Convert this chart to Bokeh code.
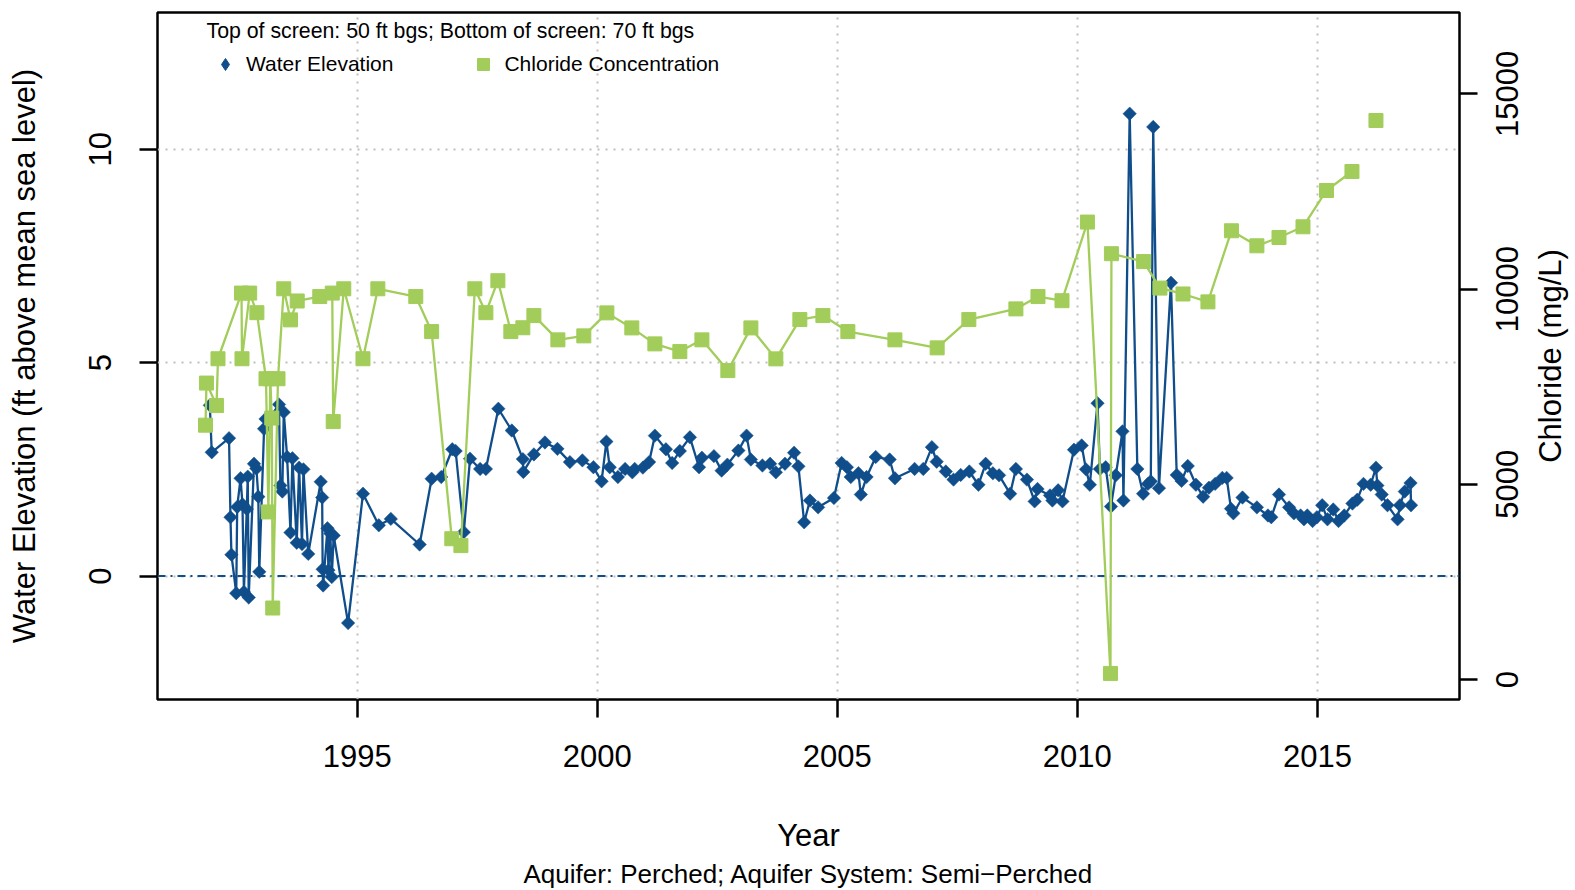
import math
from bokeh.plotting import figure
from bokeh.models import (Range1d, LinearAxis, FixedTicker, Span, Legend,
                          LegendItem, Label, Title, CustomJSTickFormatter)
from bokeh.embed import file_html
from bokeh.resources import INLINE

# ---------------- data ----------------
wl_year = [1991.93, 1991.97, 1992.33, 1992.36, 1992.38, 1992.48, 1992.50, 1992.57,
           1992.61, 1992.64, 1992.70, 1992.72, 1992.74, 1992.85, 1992.90, 1992.94,
           1992.96, 1993.06, 1993.09, 1993.20, 1993.37, 1993.40, 1993.44, 1993.47,
           1993.54, 1993.61, 1993.65, 1993.74, 1993.79, 1993.85, 1993.88, 1993.98,
           1994.24, 1994.27, 1994.28, 1994.29, 1994.38, 1994.40, 1994.44, 1994.47,
           1994.51, 1994.81, 1995.12, 1995.45, 1995.70, 1996.30, 1996.55, 1996.75,
           1996.98, 1997.05, 1997.22, 1997.35, 1997.56, 1997.68, 1997.94, 1998.22,
           1998.45, 1998.46, 1998.68, 1998.91, 1999.17, 1999.43, 1999.69, 1999.92,
           2000.09, 2000.19, 2000.26, 2000.43, 2000.58, 2000.73, 2000.78, 2000.95,
           2001.08, 2001.20, 2001.43, 2001.56, 2001.72, 2001.93, 2002.12, 2002.18,
           2002.43, 2002.59, 2002.71, 2002.94, 2003.11, 2003.20, 2003.44, 2003.60,
           2003.72, 2003.91, 2004.10, 2004.19, 2004.31, 2004.43, 2004.60, 2004.93,
           2005.09, 2005.20, 2005.28, 2005.44, 2005.49, 2005.61, 2005.80, 2006.09,
           2006.20, 2006.61, 2006.79, 2006.97, 2007.07, 2007.26, 2007.42, 2007.57,
           2007.75, 2007.94, 2008.09, 2008.24, 2008.37, 2008.60, 2008.72, 2008.95,
           2009.11, 2009.17, 2009.43, 2009.48, 2009.60, 2009.69, 2009.93, 2010.09,
           2010.18, 2010.26, 2010.42, 2010.47, 2010.59, 2010.70, 2010.80, 2010.94,
           2010.96, 2011.09, 2011.25, 2011.37, 2011.47, 2011.53, 2011.58, 2011.70,
           2011.95, 2012.07, 2012.17, 2012.30, 2012.47, 2012.62, 2012.74, 2012.87,
           2013.02, 2013.11, 2013.20, 2013.25, 2013.44, 2013.74, 2013.97, 2014.04,
           2014.20, 2014.41, 2014.51, 2014.65, 2014.72, 2014.79, 2014.90, 2014.99,
           2015.10, 2015.21, 2015.33, 2015.44, 2015.56, 2015.73, 2015.83, 2015.96,
           2016.11, 2016.22, 2016.25, 2016.34, 2016.46, 2016.67, 2016.72, 2016.82,
           2016.94, 2016.95]
wl_elev = [4.00, 2.90, 3.23, 1.38, 0.50, -0.40, 1.62, 2.29,
           1.68, -0.37, 1.57, 2.33, -0.50, 2.63, 2.52, 1.86,
           0.10, 3.45, 3.68, 3.74, 4.02, 2.12, 1.98, 3.84,
           2.79, 1.02, 2.76, 0.78, 2.54, 0.75, 2.50, 0.52,
           2.21, 1.84, 0.16, -0.22, 1.12, 0.14, 1.00, -0.02,
           0.95, -1.10, 1.93, 1.19, 1.34, 0.74, 2.28, 2.32,
           2.97, 2.93, 1.03, 2.75, 2.51, 2.51, 3.92, 3.41,
           2.74, 2.44, 2.85, 3.13, 2.98, 2.67, 2.71, 2.55,
           2.22, 3.15, 2.55, 2.32, 2.51, 2.43, 2.51, 2.54,
           2.67, 3.29, 2.97, 2.65, 2.93, 3.25, 2.55, 2.77,
           2.81, 2.47, 2.61, 2.94, 3.29, 2.73, 2.59, 2.63,
           2.43, 2.63, 2.89, 2.57, 1.26, 1.77, 1.61, 1.83,
           2.65, 2.55, 2.32, 2.41, 1.91, 2.32, 2.79, 2.73,
           2.29, 2.51, 2.51, 3.02, 2.68, 2.45, 2.26, 2.37,
           2.45, 2.14, 2.63, 2.41, 2.36, 1.93, 2.51, 2.26,
           1.75, 2.04, 1.89, 1.77, 2.01, 1.75, 2.96, 3.06,
           2.50, 2.14, 4.05, 2.51, 2.55, 1.63, 2.36, 3.39,
           1.77, 10.83, 2.51, 1.93, 2.16, 2.22, 10.52, 2.06,
           6.87, 2.37, 2.23, 2.58, 2.14, 1.86, 2.07, 2.16,
           2.30, 2.30, 1.58, 1.47, 1.84, 1.61, 1.42, 1.38,
           1.91, 1.61, 1.47, 1.42, 1.33, 1.42, 1.29, 1.38,
           1.66, 1.33, 1.56, 1.29, 1.42, 1.70, 1.79, 2.16,
           2.14, 2.54, 2.12, 1.91, 1.66, 1.33, 1.66, 1.98,
           2.18, 1.66]

cl_year = [1991.84, 1991.86, 1992.07, 1992.10, 1992.59, 1992.60, 1992.76, 1992.91,
           1993.10, 1993.15, 1993.19, 1993.22, 1993.24, 1993.35, 1993.47, 1993.61,
           1993.75, 1994.22, 1994.48, 1994.50, 1994.72, 1995.12, 1995.43, 1996.22,
           1996.55, 1996.97, 1997.16, 1997.45, 1997.68, 1997.93, 1998.20, 1998.45,
           1998.68, 1999.18, 1999.72, 2000.20, 2000.72, 2001.20, 2001.72, 2002.18,
           2002.72, 2003.20, 2003.72, 2004.22, 2004.70, 2005.22, 2006.20, 2007.08,
           2007.74, 2008.72, 2009.18, 2009.68, 2010.21, 2010.69, 2010.71, 2011.38,
           2011.72, 2012.20, 2012.72, 2013.21, 2013.74, 2014.20, 2014.70, 2015.19,
           2015.72, 2016.22]
cl_conc = [6515, 7593, 7017, 8216, 9898, 8216, 9898, 9396,
           7704, 4292, 7704, 6697, 1831, 7704, 10008, 9212,
           9696, 9809, 9898, 6607, 10008, 8216, 10008, 9809,
           8912, 3606, 3430, 10008, 9396, 10215, 8912, 9010,
           9322, 8700, 8802, 9391, 9006, 8597, 8400, 8700,
           7913, 9006, 8213, 9220, 9322, 8912, 8700, 8495,
           9220, 9493, 9809, 9703, 11717, 156, 10907, 10705,
           10026, 9875, 9673, 11494, 11109, 11322, 11596, 12526,
           13012, 14319]

x_ticks = [1995, 2000, 2005, 2010, 2015]
elev_ticks = [0, 5, 10]
cl_ticks = [0, 5000, 10000, 15000]
cl_labels = ["0", "5000", "10000", "15000"]
cl_title = "Chloride (mg/L)"

header_text = "Top of screen: 50 ft bgs; Bottom of screen: 70 ft bgs"
subtitle_text = "Aquifer: Perched; Aquifer System: Semi\u2212Perched"

# ---------------- style ----------------
BLUE = "#104E8B"
GREEN = "#A2CD5A"
GRID = "#BEBEBE"
FONT = "Liberation Sans"
FSN = 31
FS = f"{FSN}px"

FRAME_W, FRAME_H = 1302, 687
X0, X1 = 1990.84, 2017.96
Y0, Y1 = -2.89, 13.20
C0, C1 = -512.0, 17085.0

p = figure(frame_width=FRAME_W, frame_height=FRAME_H,
           x_range=Range1d(X0, X1), y_range=Range1d(Y0, Y1),
           output_backend="svg", toolbar_location=None,
           min_border_left=157, min_border_right=116,
           min_border_top=12, min_border_bottom=191)
p.extra_y_ranges = {"cl": Range1d(C0, C1)}

p.outline_line_color = "black"
p.outline_line_width = 2.5
p.background_fill_color = "white"
p.border_fill_color = "white"

# grids
p.xgrid.ticker = FixedTicker(ticks=x_ticks)
p.ygrid.ticker = FixedTicker(ticks=elev_ticks)
for g in (p.xgrid[0], p.ygrid[0]):
    g.grid_line_color = GRID
    g.grid_line_dash = "2 6"
    g.grid_line_width = 2

def style_axis(ax):
    ax.axis_line_color = None
    ax.major_tick_out = 18
    ax.major_tick_in = 0
    ax.major_tick_line_width = 2.5
    ax.major_tick_line_color = "black"
    ax.minor_tick_line_color = None
    ax.major_label_text_font = FONT
    ax.major_label_text_font_size = FS
    ax.major_label_text_color = "black"
    ax.axis_label_text_font = FONT
    ax.axis_label_text_font_size = FS
    ax.axis_label_text_font_style = "normal"
    ax.axis_label_text_color = "black"

xa = p.xaxis[0]
style_axis(xa)
xa.ticker = FixedTicker(ticks=x_ticks)
xa.axis_label = "Year"
xa.major_label_standoff = 27
xa.axis_label_standoff = 48

ya = p.yaxis[0]
style_axis(ya)
ya.ticker = FixedTicker(ticks=elev_ticks)
ya.axis_label = "Water Elevation (ft above mean sea level)"
ya.major_label_orientation = "vertical"
ya.major_label_standoff = 28
ya.axis_label_standoff = 45

# right side: tick marks, labels (reading upwards, centred on ticks) and title
px_per_cl = FRAME_H / (C1 - C0)
ra_ticks = LinearAxis(y_range_name="cl", ticker=FixedTicker(ticks=cl_ticks),
                      formatter=CustomJSTickFormatter(code="return '';"))
style_axis(ra_ticks)
ra_ticks.major_label_standoff = 0
p.add_layout(ra_ticks, "right")

half_w = [len(s) * 0.556 * FSN / 2 / px_per_cl for s in cl_labels]
ra_lab = LinearAxis(y_range_name="cl",
                    ticker=FixedTicker(ticks=[t - h for t, h in zip(cl_ticks, half_w)]),
                    formatter=CustomJSTickFormatter(args=dict(labels=cl_labels),
                                                    code="return labels[index];"))
style_axis(ra_lab)
ra_lab.major_tick_out = 0
ra_lab.major_tick_line_color = None
ra_lab.major_label_orientation = math.pi / 2
ra_lab.major_label_standoff = 30
p.add_layout(ra_lab, "right")

# axis title, centred on the frame, reading upwards
title_half = 6.89 * FSN / 2 / px_per_cl
ra_title = LinearAxis(y_range_name="cl",
                      ticker=FixedTicker(ticks=[(C0 + C1) / 2 - title_half]),
                      formatter=CustomJSTickFormatter(args=dict(t=cl_title),
                                                      code="return t;"))
style_axis(ra_title)
ra_title.major_tick_out = 0
ra_title.major_tick_line_color = None
ra_title.major_label_orientation = math.pi / 2
ra_title.major_label_standoff = 18
p.add_layout(ra_title, "right")

# subtitle
p.add_layout(Title(text=subtitle_text, align="center", text_font=FONT,
                   text_font_size="26px", text_font_style="normal",
                   text_color="black", standoff=2), "below")

# zero line
p.add_layout(Span(location=0, dimension="width", line_color=BLUE,
                  line_width=2, line_dash="8 5 2 5", level="underlay"))

# water elevation
p.line(wl_year, wl_elev, line_color=BLUE, line_width=2.3)
wl_key = p.scatter(wl_year, wl_elev, marker="diamond", size=10,
                   fill_color=BLUE, line_color=BLUE)
p.scatter(wl_year, wl_elev, marker="square", angle=45, angle_units="deg",
          size=9.5, fill_color=BLUE, line_color=BLUE, line_width=0.5)

# chloride (last sample not joined to the series)
p.line(cl_year[:-1], cl_conc[:-1], line_color=GREEN, line_width=2.3,
       y_range_name="cl")
cl_key = p.scatter(cl_year, cl_conc, marker="square", size=14, fill_color=GREEN,
                   line_color=GREEN, y_range_name="cl")

legend = Legend(items=[LegendItem(label="Water Elevation", renderers=[wl_key]),
                       LegendItem(label="Chloride Concentration", renderers=[cl_key])],
                orientation="horizontal", location=(53, 620),
                glyph_width=30, glyph_height=30, label_standoff=6, spacing=75,
                padding=0, margin=0, border_line_color=None,
                background_fill_alpha=0, label_text_font=FONT,
                label_text_font_size="21px", label_text_color="black")
p.add_layout(legend)

p.add_layout(Label(x=49, y=669, x_units="screen", y_units="screen",
                   text=header_text, text_font=FONT, text_font_size="21.3px",
                   text_color="black", text_baseline="alphabetic"))

open("out.html", "w").write(file_html(p, INLINE))
